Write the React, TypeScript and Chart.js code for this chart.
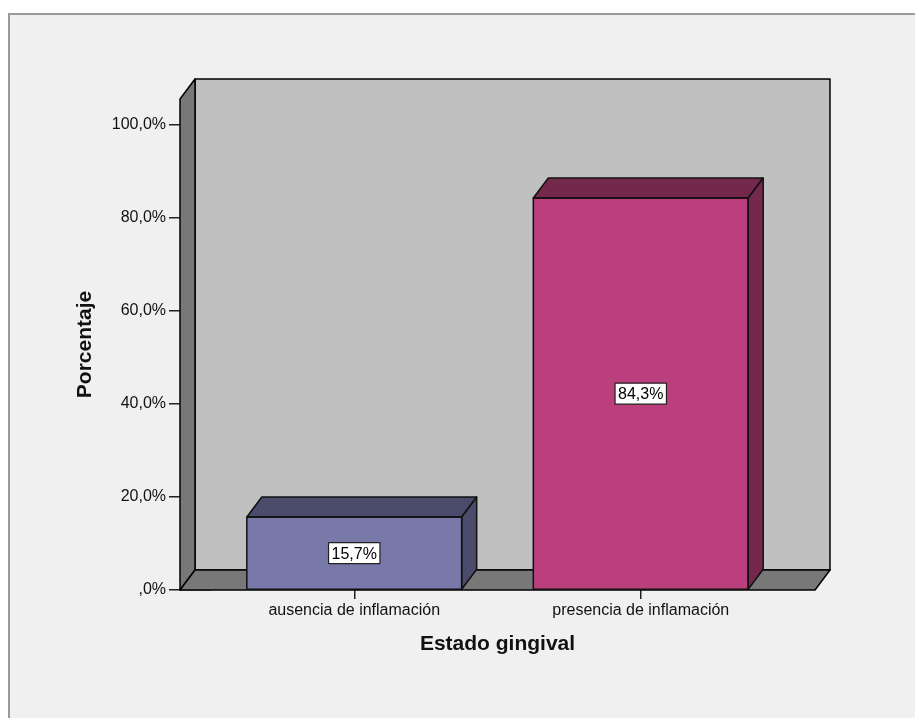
import React, { useEffect, useRef } from "react";
import { Chart, registerables } from "chart.js";

Chart.register(...registerables);

const categories = ["ausencia de inflamación", "presencia de inflamación"];
const percentages = [15.7, 84.3];
const valueLabels = ["15,7%", "84,3%"];
const frontColors = ["#7879a9", "#bb3f7c"];
const shadeColors = ["#4b4b6b", "#73284c"];
const yTicks = [0, 20, 40, 60, 80, 100];
const yTickLabels = [",0%", "20,0%", "40,0%", "60,0%", "80,0%", "100,0%"];
const xTitle = "Estado gingival";
const yTitle = "Porcentaje";

const DX = 15;
const DY = 20;
const PAD_L = 31;
const PAD_R = 31;
const FONT = "'Liberation Sans', Arial, sans-serif";

const framePlugin = {
  id: "frame",
  beforeDraw(chart: any) {
    const { ctx, width, height } = chart;
    ctx.save();
    ctx.fillStyle = "#ffffff";
    ctx.fillRect(0, 0, width, height);
    ctx.fillStyle = "#f0f0f0";
    ctx.fillRect(9, 14, width - 9, height - 14);
    ctx.fillStyle = "#9a9a9a";
    ctx.fillRect(8, 13, width - 8, 2);
    ctx.fillRect(8, 13, 2, height - 13);
    ctx.restore();
  },
};

const wallsPlugin = {
  id: "walls",
  beforeDatasetsDraw(chart: any) {
    const { ctx, chartArea } = chart;
    const y = chart.scales.y;
    const xL = chartArea.left - PAD_L;
    const xR = chartArea.right + PAD_R;
    const yTop = chartArea.top;
    const yBot = y.getPixelForValue(0);
    ctx.save();
    ctx.lineWidth = 1.5;
    ctx.strokeStyle = "#000";
    ctx.lineJoin = "round";
    // back wall
    ctx.fillStyle = "#c0c0c0";
    ctx.beginPath();
    ctx.rect(xL + DX, yTop - DY, xR - xL, yBot - yTop);
    ctx.fill();
    ctx.stroke();
    // left wall
    ctx.fillStyle = "#787878";
    ctx.beginPath();
    ctx.moveTo(xL, yTop);
    ctx.lineTo(xL + DX, yTop - DY);
    ctx.lineTo(xL + DX, yBot - DY);
    ctx.lineTo(xL, yBot);
    ctx.closePath();
    ctx.fill();
    ctx.stroke();
    // floor
    ctx.beginPath();
    ctx.moveTo(xL, yBot);
    ctx.lineTo(xL + DX, yBot - DY);
    ctx.lineTo(xR + DX, yBot - DY);
    ctx.lineTo(xR, yBot);
    ctx.closePath();
    ctx.fill();
    ctx.stroke();
    ctx.restore();
  },
};

const bars3dPlugin = {
  id: "bars3d",
  afterDatasetsDraw(chart: any) {
    const { ctx } = chart;
    const meta = chart.getDatasetMeta(0);
    ctx.save();
    ctx.lineWidth = 1.5;
    ctx.strokeStyle = "#111";
    ctx.lineJoin = "round";
    meta.data.forEach((bar: any, i: number) => {
      const p = bar.getProps(["x", "y", "base", "width"], true);
      const x0 = p.x - p.width / 2;
      const x1 = p.x + p.width / 2;
      const top = p.y;
      const base = p.base;
      ctx.fillStyle = shadeColors[i];
      // top face
      ctx.beginPath();
      ctx.moveTo(x0, top);
      ctx.lineTo(x0 + DX, top - DY);
      ctx.lineTo(x1 + DX, top - DY);
      ctx.lineTo(x1, top);
      ctx.closePath();
      ctx.fill();
      ctx.stroke();
      // side face
      ctx.beginPath();
      ctx.moveTo(x1, top);
      ctx.lineTo(x1 + DX, top - DY);
      ctx.lineTo(x1 + DX, base - DY);
      ctx.lineTo(x1, base);
      ctx.closePath();
      ctx.fill();
      ctx.stroke();
      // front outline
      ctx.beginPath();
      ctx.rect(x0, top, x1 - x0, base - top);
      ctx.stroke();
      // value label
      ctx.font = `16px ${FONT}`;
      const txt = valueLabels[i];
      const tw = ctx.measureText(txt).width;
      const bw = tw + 6;
      const bh = 21;
      const cy = (top + base) / 2;
      ctx.fillStyle = "#ffffff";
      ctx.fillRect(p.x - bw / 2, cy - bh / 2, bw, bh);
      ctx.lineWidth = 1.2;
      ctx.strokeStyle = "#222";
      ctx.strokeRect(p.x - bw / 2, cy - bh / 2, bw, bh);
      ctx.fillStyle = "#000";
      ctx.textAlign = "center";
      ctx.textBaseline = "middle";
      ctx.fillText(txt, p.x, cy + 1);
      ctx.lineWidth = 1.5;
      ctx.strokeStyle = "#111";
    });
    ctx.restore();
  },
};

export default function App() {
  const ref = useRef<HTMLCanvasElement | null>(null);
  useEffect(() => {
    if (!ref.current) return;
    const chart = new Chart(ref.current, {
      type: "bar",
      data: {
        labels: categories,
        datasets: [
          {
            data: percentages,
            backgroundColor: frontColors,
            borderWidth: 0,
            categoryPercentage: 1,
            barPercentage: 0.75,
          },
        ],
      },
      options: {
        responsive: false,
        animation: false,
        devicePixelRatio: 1,
        layout: { padding: { left: 0, top: 99, right: 131, bottom: 0 } },
        plugins: { legend: { display: false }, tooltip: { enabled: false } },
        scales: {
          x: {
            afterFit: (s: any) => {
              s.height = 128;
            },
            grid: {
              offset: false,
              drawOnChartArea: false,
              drawTicks: true,
              tickLength: 9,
              tickColor: "#222",
              lineWidth: 1.5,
            },
            border: { display: false },
            ticks: {
              color: "#111",
              padding: 2,
              font: { family: FONT, size: 16 },
              maxRotation: 0,
            },
            title: {
              display: true,
              text: xTitle,
              color: "#111",
              font: { family: FONT, size: 21, weight: "bold" },
              padding: { top: 0, bottom: 61 },
            },
          },
          y: {
            min: 0,
            max: 105.59,
            afterFit: (s: any) => {
              s.width = 211;
            },
            afterBuildTicks: (s: any) => {
              s.ticks = yTicks.map((v) => ({ value: v }));
            },
            grid: {
              drawOnChartArea: false,
              drawTicks: true,
              tickLength: 42,
              tickColor: "#222",
              lineWidth: 1.5,
            },
            border: { display: false },
            ticks: {
              color: "#111",
              padding: 3,
              font: { family: FONT, size: 16 },
              callback: (v: any) => {
                const idx = yTicks.indexOf(Number(v));
                return idx >= 0 ? yTickLabels[idx] : "";
              },
            },
            title: {
              display: true,
              text: yTitle,
              color: "#111",
              font: { family: FONT, size: 21, weight: "bold" },
              padding: { top: 73, bottom: 0 },
            },
          },
        },
      },
      plugins: [framePlugin, wallsPlugin, bars3dPlugin],
    });
    return () => chart.destroy();
  }, []);
  return (
    <div style={{ position: "fixed", left: 0, top: 0, width: 915, height: 718 }}>
      <canvas ref={ref} width={915} height={718} style={{ display: "block" }} />
    </div>
  );
}
